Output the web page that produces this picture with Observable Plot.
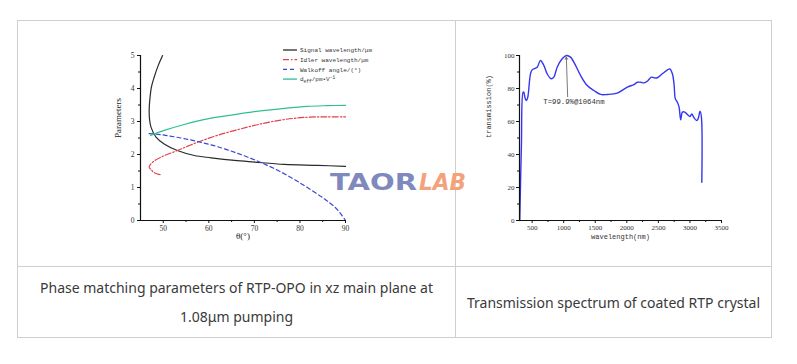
<!DOCTYPE html>
<html><head><meta charset="utf-8">
<script src="https://cdn.jsdelivr.net/npm/d3@7"></script>
<script src="https://cdn.jsdelivr.net/npm/@observablehq/plot@0.6"></script>
<style>
html,body{margin:0;padding:0;background:#fff}
body{width:797px;height:364px;position:relative;overflow:hidden;font-family:"Noto Sans",sans-serif}
.ln{position:absolute;background:#cfcfcf}
.cap{position:absolute;display:flex;align-items:center;justify-content:center;text-align:center;color:#3a3a3a;font-size:14px;line-height:29px}
#left,#right{position:absolute}
#left{left:90px;top:30px}
#right{left:470px;top:30px}
#legend{position:absolute;left:280px;top:44px}
#wm{position:absolute;left:326px;top:168px}
</style></head><body>
<div class="ln" style="left:17px;top:20px;width:755px;height:1px"></div>
<div class="ln" style="left:17px;top:266px;width:755px;height:1px"></div>
<div class="ln" style="left:17px;top:337px;width:755px;height:1px"></div>
<div class="ln" style="left:17px;top:20px;width:1px;height:318px"></div>
<div class="ln" style="left:455px;top:20px;width:1px;height:318px"></div>
<div class="ln" style="left:771px;top:20px;width:1px;height:318px"></div>
<div id="left"></div>
<div id="right"></div>
<div id="legend"></div>
<div class="cap" style="left:18px;top:267px;width:437px;height:70px">Phase matching parameters of RTP-OPO in xz main plane at<br>1.08μm pumping</div>
<div class="cap" style="left:456px;top:267px;width:315px;height:70px">Transmission spectrum of coated RTP crystal</div>
<svg id="wm" width="150" height="28">
  <text x="4" y="22" font-family="DejaVu Sans" font-weight="bold" font-size="23" fill="#8089bd" textLength="87" lengthAdjust="spacingAndGlyphs">TAOR</text>
  <text x="93" y="22" font-family="DejaVu Sans" font-weight="bold" font-style="italic" font-size="23" fill="#f3a27c" textLength="47" lengthAdjust="spacingAndGlyphs">LAB</text>
</svg>
<script>
// ---- Left chart: phase matching parameters vs theta ----
const thetaDomain = [45, 90];
const paramDomain = [0, 5];
const thetaTicks = [50, 60, 70, 80, 90];
const thetaMinor = [55, 65, 75, 85];
const paramTicks = [0, 1, 2, 3, 4, 5];
const paramMinor = [0.5, 1.5, 2.5, 3.5, 4.5];

const signalTheta = [49.85, 48.9, 48.0, 47.4, 47.1, 46.9, 47.0, 47.3, 48.4, 50.2, 53.1, 56.8, 60.5, 65.6, 70, 76.6, 83.9, 90];
const signalVal   = [5.0, 4.7, 4.34, 4.05, 3.74, 3.33, 3.05, 2.83, 2.53, 2.32, 2.12, 1.97, 1.90, 1.82, 1.77, 1.70, 1.67, 1.64];

const idlerTheta = [49.3, 48.0, 47.3, 46.9, 47.7, 49.5, 53.1, 57.5, 61.9, 67.1, 71.5, 76.6, 81.7, 86, 90];
const idlerVal   = [1.39, 1.45, 1.54, 1.62, 1.77, 1.92, 2.12, 2.37, 2.58, 2.78, 2.93, 3.06, 3.13, 3.14, 3.14];

const walkoffTheta = [46.9, 49.5, 55, 60, 65, 70, 75, 80, 85, 88, 90];
const walkoffVal   = [2.63, 2.60, 2.47, 2.31, 2.10, 1.84, 1.53, 1.14, 0.69, 0.36, 0.0];

const deffTheta = [47.2, 50.2, 54.6, 59.7, 65.6, 70, 76.6, 81.7, 86, 90];
const deffVal   = [2.58, 2.73, 2.91, 3.08, 3.21, 3.30, 3.40, 3.46, 3.48, 3.49];

const seriesNames = ["Signal wavelength/μm", "Idler wavelength/μm", "Walkoff angle/(°)", "d_eff/pm•V⁻¹"];
const seriesColors = ["#2a2a2a", "#e2404e", "#3a46d0", "#2fbf92"];
const seriesDash = [null, "6,2,1.5,2", "4,3", null];

// ---- Right chart: transmission spectrum ----
const wlDomain = [300, 3500];
const tDomain = [0, 100];
const wlTicks = [500, 1000, 1500, 2000, 2500, 3000, 3500];
const wlMinor = [750, 1250, 1750, 2250, 2750, 3250];
const tTicks = [0, 20, 40, 60, 80, 100];
const tMinor = [10, 30, 50, 70, 90];

const wavelength = [304, 330, 357, 368, 390, 410, 431, 474, 500, 580, 632, 685, 738, 802, 844, 897, 976, 1045, 1108, 1188, 1267, 1373, 1479, 1585, 1690, 1849, 2008, 2114, 2167, 2220, 2272, 2325, 2389, 2431, 2484, 2563, 2643, 2680, 2722, 2748, 2769, 2801, 2828, 2854, 2881, 2918, 2960, 3002, 3029, 3066, 3108, 3129, 3161, 3182, 3188];
const transmission = [0, 45, 77.8, 77.8, 74, 72.7, 74.7, 88.9, 91.3, 92.9, 97, 94, 88.9, 85.9, 86.9, 92.9, 98, 100, 99, 94, 87.9, 81.8, 78.8, 76.4, 76.4, 77.2, 80.8, 82.4, 83.8, 83.8, 83.4, 84.4, 86.9, 86.5, 86.5, 88.9, 91.3, 91.9, 88.9, 82.8, 73.7, 71.7, 68.7, 61, 65.7, 65.7, 64.2, 63, 64.6, 62.2, 60.6, 61.6, 66.3, 62.6, 23.2];

const annText = ["T=99.9%@1064nm"];
const annX = [677];
const annY = [72];
const arrowFrom = {x: 1063, y: 75};
const arrowTo = {x: 1042, y: 99};

const series = [
  {theta: signalTheta, val: signalVal},
  {theta: idlerTheta, val: idlerVal},
  {theta: walkoffTheta, val: walkoffVal},
  {theta: deffTheta, val: deffVal}
];

const tickFont = "Liberation Serif, DejaVu Serif, serif";
const fmt = d3.format("d");

const leftMarks = [];
series.forEach((s, i) => {
  const data = s.theta.map((t, k) => ({t, v: s.val[k]}));
  leftMarks.push(Plot.line(data, {x: "t", y: "v", stroke: seriesColors[i], strokeWidth: 1.2, strokeDasharray: seriesDash[i], curve: "catmull-rom"}));
});

const left = Plot.plot({
  width: 360, height: 220,
  marginLeft: 50, marginRight: 105, marginTop: 25, marginBottom: 30,
  style: {fontFamily: tickFont, fontSize: "7.5px", color: "#333", background: "transparent", overflow: "visible"},
  x: {domain: thetaDomain},
  y: {domain: paramDomain},
  marks: [
    ...leftMarks,
    Plot.ruleX([thetaDomain[0]], {stroke: "#111", strokeWidth: 1.2}),
    Plot.ruleY([paramDomain[0]], {stroke: "#111", strokeWidth: 1.2}),
    Plot.axisX({ticks: thetaTicks, tickFormat: fmt, tickSize: 3, tickPadding: 2, label: null, stroke: "#111", fill: "#333", fontFamily: tickFont, fontSize: 7.5}),
    Plot.axisX({ticks: thetaMinor, tickSize: 2, text: null, label: null, stroke: "#111"}),
    Plot.axisY({ticks: paramTicks, tickFormat: fmt, tickSize: 3, tickPadding: 3, label: null, stroke: "#111", fill: "#333", fontFamily: tickFont, fontSize: 7.5}),
    Plot.axisY({ticks: paramMinor, tickSize: 2, text: null, label: null, stroke: "#111"}),
    Plot.text(["θ(°)"], {frameAnchor: "bottom", dy: 18, fontSize: 9, fill: "#222", fontFamily: tickFont}),
    Plot.text(["Parameters"], {frameAnchor: "left", dx: -22, rotate: -90, fontSize: 9, fill: "#222", fontFamily: tickFont})
  ]
});
document.getElementById("left").append(left);

const specData = wavelength.map((w, k) => ({w, t: transmission[k]}));
const right = Plot.plot({
  width: 290, height: 220,
  marginLeft: 49, marginRight: 39, marginTop: 25, marginBottom: 30,
  style: {fontFamily: tickFont, fontSize: "7px", color: "#333", background: "transparent", overflow: "visible"},
  x: {domain: wlDomain},
  y: {domain: tDomain},
  marks: [
    Plot.line(specData, {x: "w", y: "t", stroke: "#3636f0", strokeWidth: 1.4, curve: "catmull-rom"}),
    Plot.ruleX([wlDomain[0]], {stroke: "#111", strokeWidth: 1.2}),
    Plot.ruleY([tDomain[0]], {stroke: "#111", strokeWidth: 1.2}),
    Plot.axisX({ticks: wlTicks, tickFormat: fmt, tickSize: 3, tickPadding: 2, label: null, stroke: "#111", fill: "#333", fontFamily: tickFont, fontSize: 7}),
    Plot.axisX({ticks: wlMinor, tickSize: 2, text: null, label: null, stroke: "#111"}),
    Plot.axisY({ticks: tTicks, tickFormat: fmt, tickSize: 3, tickPadding: 2, label: null, stroke: "#111", fill: "#333", fontFamily: tickFont, fontSize: 7}),
    Plot.axisY({ticks: tMinor, tickSize: 2, text: null, label: null, stroke: "#111"}),
    Plot.arrow([{x1: arrowFrom.x, y1: arrowFrom.y, x2: arrowTo.x, y2: arrowTo.y}], {x1: "x1", y1: "y1", x2: "x2", y2: "y2", stroke: "#555", strokeWidth: 0.8, headLength: 5}),
    Plot.text(annText, {x: annX, y: annY, textAnchor: "start", fontFamily: "Liberation Mono, monospace", fontSize: 7.3, fill: "#333"}),
    Plot.text(["wavelength(nm)"], {frameAnchor: "bottom", dy: 18, fontFamily: "Liberation Mono, monospace", fontSize: 7, fill: "#333"}),
    Plot.text(["transmission(%)"], {frameAnchor: "left", dx: -31, rotate: -90, fontFamily: "Liberation Mono, monospace", fontSize: 7, fill: "#333"})
  ]
});
document.getElementById("right").append(right);

// legend
const lg = d3.select("#legend").append("svg").attr("width", 110).attr("height", 44)
  .style("font-family", "Liberation Mono, monospace").style("font-size", "6px");
seriesNames.forEach((name, i) => {
  const y = 6 + i * 9.7;
  lg.append("line").attr("x1", 3).attr("x2", 17).attr("y1", y).attr("y2", y)
    .attr("stroke", seriesColors[i]).attr("stroke-width", 1.3)
    .attr("stroke-dasharray", seriesDash[i]);
  const t = lg.append("text").attr("x", 20).attr("y", y).attr("dy", "0.35em").attr("fill", "#333");
  if (name.startsWith("d_eff")) {
    t.append("tspan").text("d");
    t.append("tspan").attr("font-size", "4.5px").attr("dy", "1.5").text("eff");
    t.append("tspan").attr("dy", "-1.5").text("/pm•V");
    t.append("tspan").attr("font-size", "4.5px").attr("dy", "-2").text("-1");
  } else {
    t.text(name);
  }
});
</script>
</body></html>
